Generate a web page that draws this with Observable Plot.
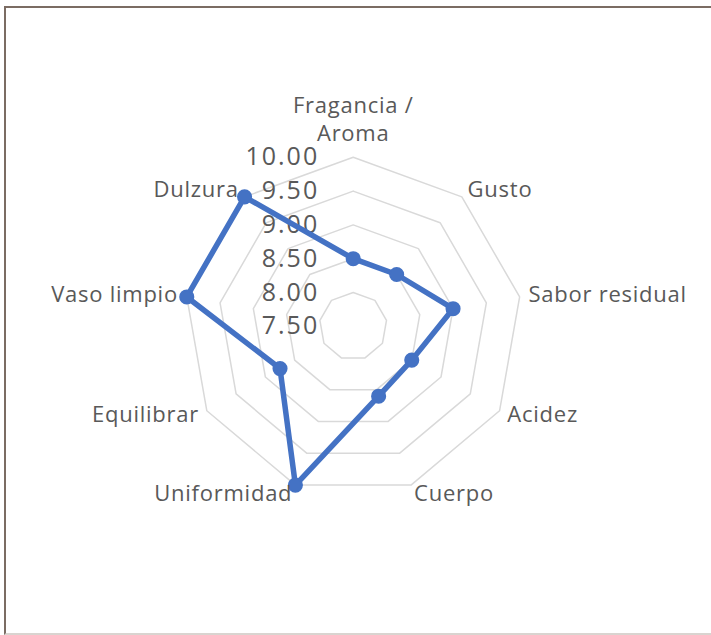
<!DOCTYPE html>
<html>
<head>
<meta charset="utf-8">
<script src="https://cdn.jsdelivr.net/npm/d3@7"></script>
<script src="https://cdn.jsdelivr.net/npm/@observablehq/plot@0.6"></script>
<style>
  html, body { margin: 0; padding: 0; background: #fff; }
  #wrap { position: relative; width: 711px; height: 635px; overflow: hidden; }
  #frame { position: absolute; left: 4px; top: 6px; width: 720px; height: 625px;
           border-left: 2px solid #7b6c63; border-top: 2px solid #7b6c63;
           border-bottom: 2px solid #d9d4d0; }
  #chart { position: absolute; left: 0; top: 0; }
  #chart text { letter-spacing: 0.75px; }
  #chart g[font-size="25"] text { letter-spacing: 2px; }
</style>
</head>
<body>
<div id="wrap"><div id="frame"></div><div id="chart"></div></div>
<script>
const categories = ["Fragancia /\nAroma", "Gusto", "Sabor residual", "Acidez", "Cuerpo",
                    "Uniformidad", "Equilibrar", "Vaso limpio", "Dulzura"];
const values = [8.5, 8.5, 9.0, 8.5, 8.6, 10.0, 8.75, 10.0, 10.0];
const tickValues = [7.5, 8.0, 8.5, 9.0, 9.5, 10.0];
const tickLabels = ["7.50", "8.00", "8.50", "9.00", "9.50", "10.00"];

const minV = 7.5, maxV = 10.0;
const W = 711, H = 635;
const cx = 352.7, cy = 325.8, pxPerUnit = 67.6;
const n = categories.length;
const ang = i => (2 * Math.PI * i) / n;
const pt = (v, i) => [(v - minV) * Math.sin(ang(i)), (v - minV) * Math.cos(ang(i))];

// grid rings
const rings = [];
tickValues.filter(t => t > minV).forEach(t => {
  for (let i = 0; i <= n; i++) {
    const [x, y] = pt(t, i % n);
    rings.push({ ring: t, x, y });
  }
});

// series
const series = [];
for (let i = 0; i <= n; i++) {
  const [x, y] = pt(values[i % n], i % n);
  series.push({ x, y, cat: categories[i % n] });
}
const points = series.slice(0, n);

// labels
const labelR = (maxV - minV) + 9 / pxPerUnit;
const labels = categories.map((c, i) => {
  const s = Math.sin(ang(i));
  return { text: c, x: labelR * s, y: labelR * Math.cos(ang(i)),
           anchor: s > 0.1 ? "start" : s < -0.1 ? "end" : "middle" };
});

const ticks = tickValues.map((t, i) => ({ x: 0, y: t - minV, label: tickLabels[i] }));

const font = "'Open Sans', 'Noto Sans', sans-serif";
const textColor = "#595959";
const catSize = 22;

const chart = Plot.plot({
  width: W, height: H,
  margin: 0,
  style: { background: "transparent", fontFamily: font },
  x: { domain: [-cx / pxPerUnit, (W - cx) / pxPerUnit], axis: null },
  y: { domain: [-(H - cy) / pxPerUnit, cy / pxPerUnit], axis: null },
  marks: [
    Plot.line(rings, { x: "x", y: "y", z: "ring", stroke: "#d9d9d9", strokeWidth: 1.5 }),
    Plot.text(ticks, { x: "x", y: "y", text: "label", textAnchor: "end", dx: -34,
                       fontSize: 25, fill: textColor }),
    Plot.line(series, { x: "x", y: "y", stroke: "#4472c4", strokeWidth: 5.5, strokeLinejoin: "round" }),
    Plot.dot(points, { x: "x", y: "y", r: 6.8, fill: "#4472c4", stroke: "#4472c4" }),
    Plot.text(labels.filter(d => d.anchor === "start"), { x: "x", y: "y", text: "text",
      textAnchor: "start", fontSize: catSize, fill: textColor }),
    Plot.text(labels.filter(d => d.anchor === "end"), { x: "x", y: "y", text: "text",
      textAnchor: "end", fontSize: catSize, fill: textColor }),
    Plot.text(labels.filter(d => d.anchor === "middle"), { x: "x", y: "y", text: "text",
      textAnchor: "middle", lineAnchor: "bottom", lineHeight: 1.27, dy: -7,
      fontSize: catSize, fill: textColor })
  ]
});
document.getElementById("chart").appendChild(chart);
</script>
</body>
</html>
